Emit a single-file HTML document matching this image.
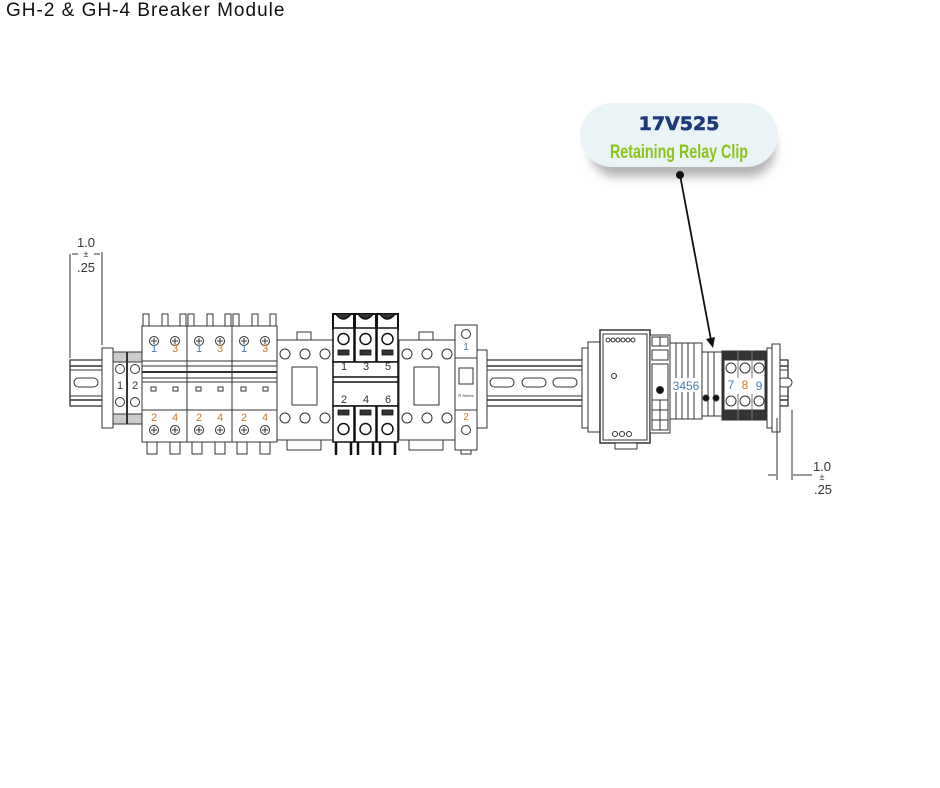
<!DOCTYPE html>
<html><head><meta charset="utf-8"><style>
html,body{margin:0;padding:0;background:#fff;width:940px;height:788px;overflow:hidden}
.t{position:absolute;left:6px;top:0px;font:19px "Liberation Sans",sans-serif;color:#111;letter-spacing:1px}
</style></head><body>
<div class="t">GH-2 &amp; GH-4 Breaker Module</div>
<svg width="940" height="788" style="position:absolute;left:0;top:0" font-family="Liberation Sans, sans-serif">
<defs>
<filter id="sh" x="-20%" y="-20%" width="140%" height="160%"><feGaussianBlur stdDeviation="5"/></filter>
<g id="mcb" stroke="#333" stroke-width="1" fill="#fff">
  <rect x="1" y="0" width="6" height="14"/><rect x="20" y="0" width="6" height="14"/><rect x="38" y="0" width="6" height="14"/>
  <rect x="0" y="12" width="45" height="116"/>
  <line x1="0" y1="47" x2="45" y2="47"/><line x1="0" y1="52" x2="45" y2="52"/>
  <line x1="0" y1="58" x2="45" y2="58" stroke-width="2"/><line x1="0" y1="64" x2="45" y2="64"/>
  <line x1="0" y1="68" x2="45" y2="68"/><line x1="0" y1="96" x2="45" y2="96"/>
  <rect x="9" y="73" width="5" height="4"/><rect x="31" y="73" width="5" height="4"/>
  <circle cx="12" cy="27" r="4.5"/><circle cx="33" cy="27" r="4.5"/>
  <circle cx="12" cy="116" r="4.5"/><circle cx="33" cy="116" r="4.5"/>
  <path d="M9 27h6M12 24v6M30 27h6M33 24v6M9 116h6M12 113v6M30 116h6M33 113v6"/>
  <rect x="5" y="128" width="10" height="12"/><rect x="28" y="128" width="10" height="12"/>
</g>
<g id="cont" stroke="#333" stroke-width="1" fill="#fff">
  <rect x="0" y="26" width="56" height="100"/>
  <rect x="20" y="18" width="14" height="8"/>
  <circle cx="8" cy="40" r="5"/><circle cx="28" cy="40" r="5"/><circle cx="48" cy="40" r="5"/>
  <circle cx="8" cy="104" r="5"/><circle cx="28" cy="104" r="5"/><circle cx="48" cy="104" r="5"/>
  <rect x="15" y="53" width="25" height="38"/>
  <rect x="10" y="126" width="34" height="10"/>
</g>
</defs>
<g stroke="#333" stroke-width="1">
<line x1="70" y1="254" x2="70" y2="358"/><line x1="102" y1="252" x2="102" y2="345"/>
<line x1="72" y1="254" x2="78" y2="254"/><line x1="94" y1="254" x2="100" y2="254"/>
</g>
<text x="86" y="247" font-size="13" text-anchor="middle" fill="#333">1.0</text>
<text x="86" y="257" font-size="9" text-anchor="middle" fill="#333">±</text>
<text x="86" y="272" font-size="13" text-anchor="middle" fill="#333">.25</text>
<g stroke="#333" stroke-width="1" fill="#fff">
<rect x="70" y="360" width="718" height="46" stroke-width="1.3"/>
<line x1="70" y1="366" x2="788" y2="366" stroke-width="1.5"/><line x1="70" y1="370" x2="788" y2="370"/>
<line x1="70" y1="396" x2="788" y2="396"/><line x1="70" y1="400" x2="788" y2="400" stroke-width="1.5"/>
<rect x="74" y="378" width="24" height="9" rx="4.5"/>
<rect x="490" y="378" width="24" height="9" rx="4.5"/>
<rect x="522" y="378" width="24" height="9" rx="4.5"/>
<rect x="553" y="378" width="24" height="9" rx="4.5"/>
<rect x="778" y="378" width="14" height="9" rx="4.5"/>
</g>
<g stroke="#333" stroke-width="1" fill="#fff">
<rect x="102" y="348" width="11" height="80"/>
<rect x="113" y="352" width="29" height="72" fill="#ccc"/>
<rect x="113" y="362" width="29" height="52"/>
<line x1="127" y1="352" x2="127" y2="424" stroke-width="2"/>
<circle cx="120" cy="369" r="4.5"/><circle cx="135" cy="369" r="4.5"/>
<circle cx="120" cy="402" r="4.5"/><circle cx="135" cy="402" r="4.5"/>
</g>
<text x="120" y="389" font-size="11" text-anchor="middle" fill="#333">1</text>
<text x="135" y="389" font-size="11" text-anchor="middle" fill="#333">2</text>
<use href="#mcb" x="142" y="314"/><use href="#mcb" x="187" y="314"/><use href="#mcb" x="232" y="314"/>
<g font-size="11" text-anchor="middle">
<g fill="#4a7ab5"><text x="154" y="352">1</text><text x="199" y="352">1</text><text x="244" y="352">1</text></g>
<g fill="#c97a2a"><text x="175" y="352">3</text><text x="220" y="352">3</text><text x="265" y="352">3</text>
<text x="154" y="421">2</text><text x="175" y="421">4</text><text x="199" y="421">2</text><text x="220" y="421">4</text><text x="244" y="421">2</text><text x="265" y="421">4</text></g>
</g>
<use href="#cont" x="277" y="314"/><use href="#cont" x="399" y="314"/>
<g stroke="#111" stroke-width="1.5" fill="#fff">
<path d="M333 330 V314 h21 v16 M355 330 V314 h21 v16 M377 330 V314 h21 v16" stroke-width="2"/>
<path d="M336 314 q7 10 15 0 M358 314 q7 10 15 0 M380 314 q7 10 15 0" fill="#333"/>
<rect x="333" y="328" width="21" height="34"/><rect x="355" y="328" width="21" height="34"/><rect x="377" y="328" width="21" height="34"/>
<circle cx="343.5" cy="339" r="5.5"/><circle cx="365.5" cy="339" r="5.5"/><circle cx="387.5" cy="339" r="5.5"/>
<rect x="338" y="350" width="11" height="5" fill="#333" stroke-width="0.8"/><rect x="360" y="350" width="11" height="5" fill="#333" stroke-width="0.8"/><rect x="382" y="350" width="11" height="5" fill="#333" stroke-width="0.8"/>
<rect x="333" y="362" width="65" height="44"/>
<line x1="333" y1="377" x2="398" y2="377"/><line x1="333" y1="382" x2="398" y2="382"/>
<rect x="333" y="406" width="21" height="36"/><rect x="355" y="406" width="21" height="36"/><rect x="377" y="406" width="21" height="36"/>
<rect x="338" y="410" width="11" height="5" fill="#333" stroke-width="0.8"/><rect x="360" y="410" width="11" height="5" fill="#333" stroke-width="0.8"/><rect x="382" y="410" width="11" height="5" fill="#333" stroke-width="0.8"/>
<circle cx="343.5" cy="429" r="5.5"/><circle cx="365.5" cy="429" r="5.5"/><circle cx="387.5" cy="429" r="5.5"/>
<path d="M336 442 V455 M351 442 V455 M358 442 V455 M373 442 V455 M380 442 V455 M395 442 V455" stroke-width="2.5"/>
</g>
<g font-size="11" fill="#333" text-anchor="middle">
<text x="344" y="370">1</text><text x="366" y="370">3</text><text x="388" y="370">5</text>
<text x="344" y="403">2</text><text x="366" y="403">4</text><text x="388" y="403">6</text>
</g>
<g stroke="#333" stroke-width="1" fill="#fff">
<rect x="455" y="325" width="22" height="125"/>
<line x1="455" y1="358" x2="477" y2="358"/><line x1="455" y1="410" x2="477" y2="410"/>
<rect x="459" y="368" width="14" height="16"/>
<circle cx="466" cy="334" r="4.5"/><circle cx="466" cy="430" r="4.5"/>
<rect x="477" y="350" width="10" height="78"/>
<rect x="461" y="450" width="10" height="4"/>
</g>
<text x="466" y="350" font-size="10" fill="#4a7ab5" text-anchor="middle">1</text>
<text x="466" y="420" font-size="10" fill="#c97a2a" text-anchor="middle">2</text>
<text x="466" y="397" font-size="4" fill="#333" text-anchor="middle">R Series</text>
<g stroke="#333" stroke-width="1" fill="#fff">
<rect x="582" y="348" width="18" height="80"/><rect x="588" y="342" width="12" height="90"/>
<rect x="600" y="330" width="50" height="113" stroke-width="1.5"/>
<rect x="603" y="334" width="44" height="106"/>
<rect x="615" y="443" width="22" height="6"/>
<circle cx="608" cy="340" r="2"/><circle cx="613" cy="340" r="2"/><circle cx="618" cy="340" r="2"/><circle cx="623" cy="340" r="2"/><circle cx="628" cy="340" r="2"/><circle cx="633" cy="340" r="2"/>
<circle cx="614" cy="376" r="2.5"/>
<circle cx="615" cy="434" r="2.5"/><circle cx="622" cy="434" r="2.5"/><circle cx="629" cy="434" r="2.5"/>
<rect x="650" y="335" width="20" height="98"/>
<rect x="652" y="337" width="8" height="9"/><rect x="660" y="337" width="8" height="9"/>
<rect x="652" y="350" width="16" height="10"/>
<rect x="652" y="364" width="16" height="36"/>
<circle cx="660" cy="390" r="3.5" fill="#111"/>
<rect x="652" y="400" width="8" height="10"/><rect x="660" y="400" width="8" height="10"/>
<rect x="652" y="410" width="8" height="10"/><rect x="660" y="410" width="8" height="10"/>
<rect x="652" y="420" width="8" height="10"/><rect x="660" y="420" width="8" height="10"/>
<rect x="670" y="343" width="32" height="76"/>
<line x1="676" y1="343" x2="676" y2="419"/><line x1="682" y1="343" x2="682" y2="419"/><line x1="688" y1="343" x2="688" y2="419"/><line x1="694" y1="343" x2="694" y2="419"/>
<rect x="702" y="352" width="20" height="64"/>
<line x1="708" y1="352" x2="708" y2="416"/><line x1="714" y1="352" x2="714" y2="416"/>
<circle cx="706" cy="398" r="3" fill="#111"/><circle cx="716" cy="398" r="3" fill="#111"/>
<rect x="722" y="351" width="45" height="69" fill="#333"/>
<rect x="724" y="360" width="41" height="50"/>
<line x1="738" y1="351" x2="738" y2="420" stroke="#777"/><line x1="752" y1="351" x2="752" y2="420" stroke="#777"/>
<circle cx="731" cy="368" r="5"/><circle cx="745" cy="368" r="5"/><circle cx="759" cy="368" r="5"/>
<circle cx="731" cy="401" r="5"/><circle cx="745" cy="401" r="5"/><circle cx="759" cy="401" r="5"/>
<rect x="767" y="348" width="11" height="80"/><rect x="772" y="344" width="8" height="88"/>
</g>
<rect x="672" y="378" width="28" height="14" fill="#fff"/>
<text x="686" y="390" font-size="12" fill="#4a7ab5" text-anchor="middle">3456</text>
<rect x="726" y="378" width="38" height="16" fill="#fff"/>
<g font-size="12" fill="#4a7ab5" text-anchor="middle">
<text x="731" y="389">7</text><text x="745" y="389" fill="#c97a2a">8</text><text x="759" y="390">9</text>
</g>
<g stroke="#333" stroke-width="1">
<line x1="777" y1="418" x2="777" y2="480"/><line x1="792" y1="410" x2="792" y2="480"/>
<line x1="768" y1="475" x2="776" y2="475"/><line x1="793" y1="475" x2="812" y2="475"/>
</g>
<text x="822" y="471" font-size="13" text-anchor="middle" fill="#333">1.0</text>
<text x="822" y="480" font-size="9" text-anchor="middle" fill="#333">±</text>
<text x="823" y="494" font-size="13" text-anchor="middle" fill="#333">.25</text>
<rect x="590" y="122" width="185" height="55" rx="27" fill="#777" opacity="0.55" filter="url(#sh)"/>
<rect x="580" y="103" width="198" height="64" rx="32" fill="#eaf4f6"/>
<text x="679" y="130" font-size="19" font-weight="bold" fill="#1f3a7a" text-anchor="middle" font-family="DejaVu Sans, sans-serif" stroke="#1f3a7a" stroke-width="0.6">17V525</text>
<text x="679" y="158" font-size="19" font-weight="bold" fill="#8cc31a" text-anchor="middle" textLength="138" lengthAdjust="spacingAndGlyphs" font-family="Liberation Sans Narrow, Liberation Sans, sans-serif">Retaining Relay Clip</text>
<line x1="680" y1="175" x2="711" y2="340" stroke="#111" stroke-width="1.8"/>
<circle cx="680" cy="175" r="4" fill="#111"/>
<path d="M706 339 L713 348 L715 337 Z" fill="#111"/>
</svg>
</body></html>
